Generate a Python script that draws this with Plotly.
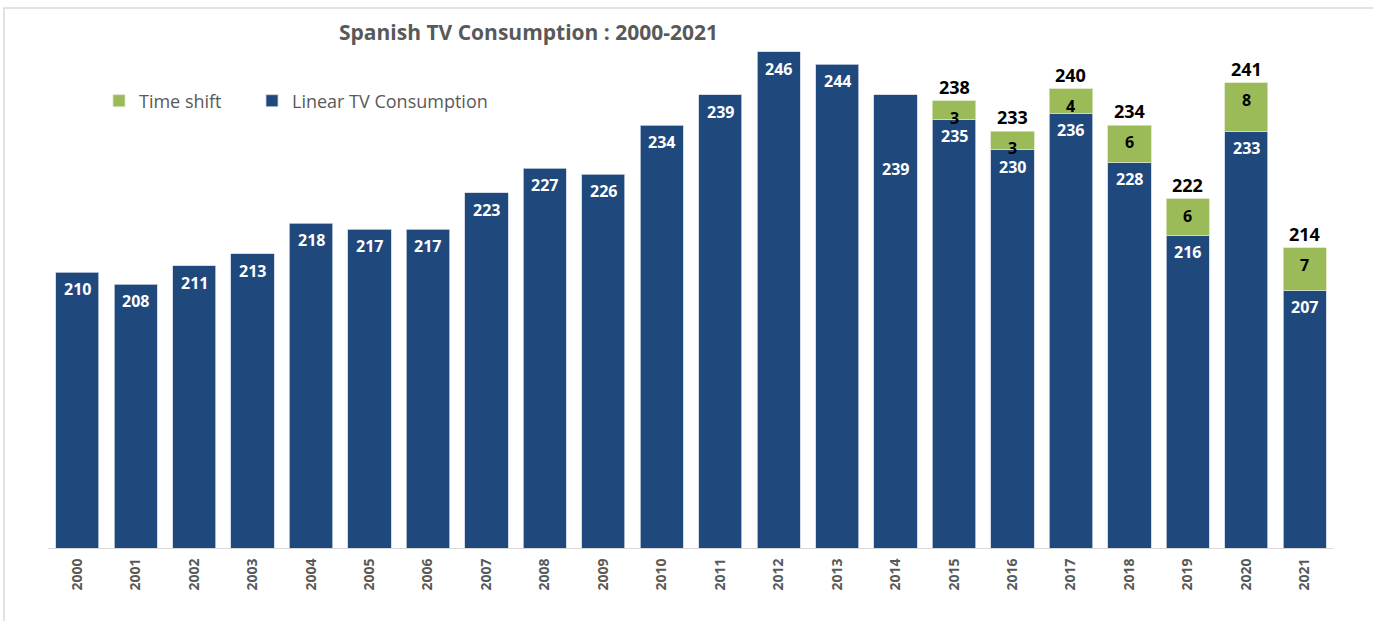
import plotly.graph_objects as go

years = [str(y) for y in range(2000, 2022)]
linear = [210, 208, 211, 213, 218, 217, 217, 223, 227, 226, 234, 239, 246, 244, 239,
          235, 230, 236, 228, 216, 233, 207]
timeshift = [None] * 15 + [3, 3, 4, 6, 6, 8, 7]
totals = [None] * 15 + [238, 233, 240, 234, 222, 241, 214]

NAVY = "#1F497D"
GREEN = "#9BBB59"
GRAY = "#595959"

fig = go.Figure()
fig.add_trace(go.Bar(x=years, y=linear, name="Linear TV Consumption", legend="legend2",
                     marker=dict(color=NAVY, line=dict(color="#C9D3E0", width=0.8))))
fig.add_trace(go.Bar(x=years, y=timeshift, name="Time shift", legend="legend",
                     marker=dict(color=GREEN, line=dict(color="#D8E4BC", width=0.8))))

ann = []
for i, y in enumerate(years):
    shift = -17 if y != "2014" else -74
    ann.append(dict(x=i, y=linear[i], text=str(linear[i]), showarrow=False,
                    yshift=shift, font=dict(family="Open Sans", size=16, color="white", weight="bold")))
    if timeshift[i] is not None:
        ann.append(dict(x=i, y=linear[i] + timeshift[i], text=str(timeshift[i]), showarrow=False,
                        yshift=-17, font=dict(family="Open Sans", size=16, color="black", weight="bold")))
        ann.append(dict(x=i, y=totals[i], text=str(totals[i]), showarrow=False,
                        yshift=14, font=dict(family="Open Sans", size=18, color="black", weight="bold")))

ann.append(dict(xref="paper", yref="paper", x=(528 - 48) / 1286, y=(548 - 32) / 519,
                xanchor="center", yanchor="middle", showarrow=False,
                text="<b>Spanish TV Consumption : 2000-2021</b>",
                font=dict(family="Open Sans", size=21, color=GRAY)))

leg_common = dict(orientation="h", xanchor="left", y=(548 - 101) / 519, yanchor="middle",
                  font=dict(family="Open Sans", size=18, color=GRAY),
                  bgcolor="rgba(0,0,0,0)", itemwidth=30)

fig.update_layout(
    barmode="stack",
    bargap=0.26,
    width=1373, height=621,
    margin=dict(l=48, r=39, t=29, b=73),
    plot_bgcolor="white", paper_bgcolor="white",
    showlegend=True,
    legend=dict(x=(99 - 48) / 1286, **leg_common),
    legend2=dict(x=(252 - 48) / 1286, **leg_common),
    xaxis=dict(type="category", range=[-0.5, 21.5], showline=True, linecolor="#D9D9D9", linewidth=1,
               tickangle=-90, ticks="outside", ticklen=4, tickcolor="rgba(0,0,0,0)",
               tickfont=dict(family="Open Sans", size=14, color=GRAY, weight="bold"),
               showgrid=False),
    yaxis=dict(range=[164.85, 249.76], visible=False, showgrid=False),
    annotations=ann,
    shapes=[dict(type="rect", xref="paper", yref="paper",
                 x0=(4 - 48) / 1286, x1=(1385 - 48) / 1286,
                 y0=(548 - 640) / 519, y1=(548 - 8) / 519,
                 line=dict(color="#D9D9D9", width=1.5), fillcolor="rgba(0,0,0,0)", layer="below")],
)

fig.write_html("out.html", config={"displayModeBar": False},
               post_script="document.body.style.margin='0';")
